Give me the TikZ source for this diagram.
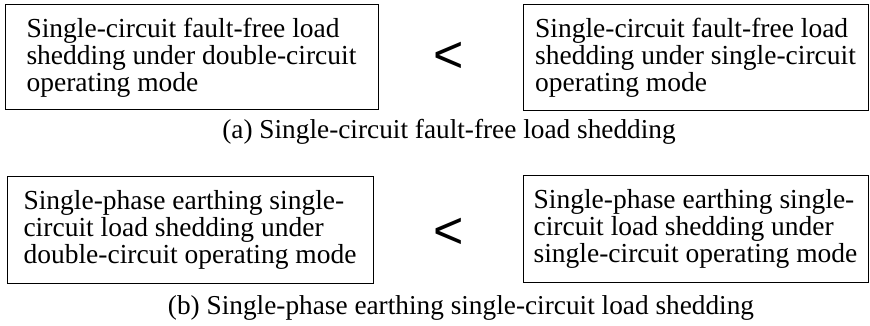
\documentclass[tikz,border=0pt]{standalone}
\usepackage{fontspec}
\setmainfont{Liberation Serif}
\newfontfamily\ltsans{Liberation Sans}
\tikzset{
  casebox/.style={draw,line width=1pt,align=left,inner sep=0pt,
    font=\fontsize{27.5}{27}\selectfont},
  relsign/.style={font=\ltsans\fontsize{52}{52}\selectfont,inner sep=0pt},
  caption/.style={font=\fontsize{27.3}{27}\selectfont,inner sep=0pt}
}
\begin{document}
\begin{tikzpicture}[x=1pt,y=-1pt]
  \useasboundingbox (0,0) rectangle (870,326);
  % (a) fault-free
  \node[casebox,minimum width=373pt,minimum height=105pt] (dblA) at(191.5,57.5)
    {Single-circuit fault-free load\\shedding under double-circuit\\operating mode};
  \node[relsign] (ltA) at(449,57.5){<};
  \node[casebox,minimum width=345pt,minimum height=106pt] (sglA) at(695.5,58)
    {Single-circuit fault-free load\\shedding under single-circuit\\operating mode};
  \node[caption] (capA) at(449,132){(a) Single-circuit fault-free load shedding};
  % (b) single-phase earthing
  \node[casebox,minimum width=366pt,minimum height=107pt] (dblB) at(190,229.5)
    {Single-phase earthing single-\\circuit load shedding under\\double-circuit operating mode};
  \node[relsign] (ltB) at(449,233.5){<};
  \node[casebox,minimum width=345pt,minimum height=107pt] (sglB) at(695.5,228.5)
    {Single-phase earthing single-\\circuit load shedding under\\single-circuit operating mode};
  \node[caption] (capB) at(461,308){(b) Single-phase earthing single-circuit load shedding};
\end{tikzpicture}
\end{document}
